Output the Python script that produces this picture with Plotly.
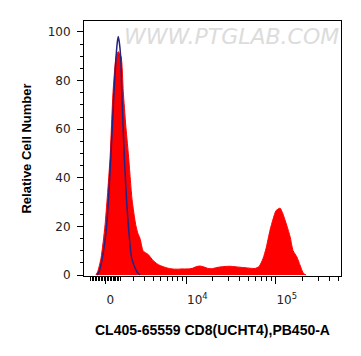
import numpy as np
import plotly.graph_objects as go

# ---- data (fluorescence intensity, relative cell number) ----
sample_x = [-640, -520, -300, -30, 300, 500, 710, 860, 1060, 1220, 1400, 1600, 1900,
            2210, 2410, 2600, 2890, 3200, 3410, 3750, 3990, 4500, 4910, 5500, 5990,
            6870, 7870, 9000, 10270, 11710, 13010, 14430, 16010, 17760, 19690, 21830,
            24200, 27520, 31290, 35580, 40440, 45970, 52250, 59390, 65800, 72890,
            78710, 87190, 94160, 101660, 112610, 121610, 134710, 145470, 157070,
            172660, 187860, 204410, 219030]
sample_y = [0, 1.4, 6.9, 20.6, 48, 75, 89.8, 91.9, 89.8, 75.4, 61.7, 50, 31,
            20.6, 17, 15, 10, 9, 8.5, 7, 6, 4.6, 3.9, 3.3, 2.9,
            2.5, 2.4, 2.5, 2.5, 2.7, 3.4, 3.7, 3.3, 2.7, 2.6, 3.0,
            3.3, 3.5, 3.6, 3.4, 3.2, 3.0, 2.8, 2.7, 3.5, 6.8,
            11, 18.5, 23, 26.5, 27.5, 25, 20, 15.8, 10,
            7.5, 4, 0.7, 0]

control_x = [-570, -430, -210, 80, 350, 570, 710, 790, 860, 940, 1030, 1110, 1300,
             1600, 1870, 2300, 2600]
control_y = [0, 1.4, 6.9, 20.6, 48, 75.4, 89.8, 95.5, 98.1, 95.5, 89.8, 75.4, 48,
             20.6, 6.9, 1.4, 0]

major_ticks = [0, 1e4, 1e5]
major_labels = ["0", "10<sup>4</sup>", "10<sup>5</sup>"]
minor_ticks = ([-1000] + [-k * 100 for k in range(1, 10)] + [k * 100 for k in range(1, 10)] +
               [k * 1000 for k in range(1, 10)] + [k * 10000 for k in range(2, 10)] +
               [k * 100000 for k in range(2, 6)])

y_major = [0, 20, 40, 60, 80, 100]

x_min, x_max = -1500, 535000
y_min, y_max = -0.41, 104.5

# biexponential (arcsinh) display scale
C = 2594.0
def tx(v):
    return np.arcsinh(np.asarray(v, dtype=float) / C)

fig = go.Figure()
fig.add_trace(go.Scatter(
    x=tx(sample_x), y=sample_y, mode="lines", fill="tozeroy",
    fillcolor="#ff0000", line=dict(color="#ff0000", width=1, shape="spline", smoothing=0.6),
    hoverinfo="skip", showlegend=False))
fig.add_trace(go.Scatter(
    x=tx(control_x), y=control_y, mode="lines",
    line=dict(color="#27227f", width=1.5, shape="spline", smoothing=0.6),
    hoverinfo="skip", showlegend=False))

tickfont = dict(family="DejaVu Sans", size=12, color="#222222")
xtitlefont = dict(family="Liberation Sans, Arial", size=14, color="#000000", weight="bold")
ytitlefont = dict(family="Liberation Sans, Arial", size=13, color="#000000", weight="bold")

# the page body adds an 8px offset, so the figure is sized to compensate
fig.update_layout(
    width=353, height=348,
    margin=dict(l=76, r=20, t=13, b=80),
    paper_bgcolor="white", plot_bgcolor="white",
    xaxis=dict(
        range=[float(tx(x_min)), float(tx(x_max))],
        automargin=False,
        showgrid=False, zeroline=False,
        showline=True, linecolor="black", linewidth=1, mirror=True,
        ticks="outside", ticklen=7, tickwidth=1, tickcolor="black",
        tickmode="array", tickvals=tx(major_ticks).tolist(), ticktext=major_labels,
        ticklabelposition="outside right", ticklabelstandoff=13,
        tickfont=tickfont,
        minor=dict(tickmode="array", tickvals=tx(minor_ticks).tolist(),
                   ticks="outside", ticklen=4, tickwidth=1, tickcolor="black"),
        title=dict(text="CL405-65559 CD8(UCHT4),PB450-A", font=xtitlefont, standoff=18),
    ),
    yaxis=dict(
        range=[y_min, y_max],
        automargin=False,
        showgrid=False, zeroline=False,
        showline=True, linecolor="black", linewidth=1, mirror=True,
        ticks="outside", ticklen=6, tickwidth=1, tickcolor="black",
        tickmode="array", tickvals=y_major,
        ticklabelstandoff=4,
        tickfont=tickfont,
        minor=dict(tickmode="linear", tick0=0, dtick=5, ticks="outside",
                   ticklen=3, tickwidth=1, tickcolor="black"),
        title=dict(text="Relative Cell Number", font=ytitlefont, standoff=13),
    ),
    annotations=[dict(
        text="WWW.PTGLAB.COM", xref="paper", yref="paper", x=1.0, y=0.997,
        xanchor="right", yanchor="top", showarrow=False,
        font=dict(family="DejaVu Sans", size=22, color="#dcdcdc", style="italic"))],
)

fig.write_html("out.html")
